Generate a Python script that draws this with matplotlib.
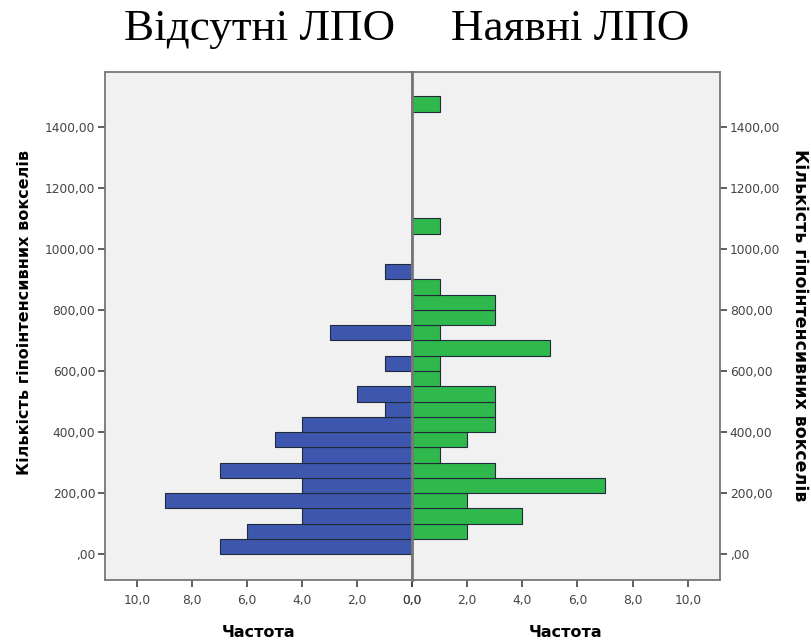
import matplotlib
matplotlib.use("Agg")
import matplotlib.pyplot as plt
from matplotlib.ticker import FuncFormatter
import numpy as np

# bins of 50 voxels, lower edges
bin_edges = np.arange(0, 1500, 50)
bin_width = 50

# frequencies per bin (0-50, 50-100, ...)
absent = [7, 6, 4, 9, 4, 7, 4, 5, 4, 1, 2, 0, 1, 0, 3, 0, 0, 0, 1, 0,
          0, 0, 0, 0, 0, 0, 0, 0, 0, 0]
present = [0, 2, 4, 2, 7, 3, 1, 2, 3, 3, 3, 1, 1, 5, 1, 3, 3, 1, 0, 0,
           0, 1, 0, 0, 0, 0, 0, 0, 0, 1]

title_left = "Відсутні ЛПО"
title_right = "Наявні ЛПО"
y_label = "Кількість гіпоінтенсивних вокселів"
x_label = "Частота"

y_ticks = np.arange(0, 1401, 200)
x_ticks = np.arange(0, 11, 2)

blue = "#3d57ae"
green = "#2fb84b"
bg = "#f1f1f1"
grey = "#777777"

fig = plt.figure(figsize=(8.12, 6.44), dpi=100)
axL = fig.add_axes([105 / 812, 1 - 580 / 644, (412 - 105) / 812, (580 - 72) / 644])
axR = fig.add_axes([412 / 812, 1 - 580 / 644, (720 - 412) / 812, (580 - 72) / 644], sharey=axL)

def fmt_y(v, pos):
    s = f"{v:.2f}".replace(".", ",")
    return s[1:] if s.startswith("0,") else s

def fmt_x(v, pos):
    return f"{abs(v):.1f}".replace(".", ",")

for ax, vals, col in [(axL, absent, blue), (axR, present, green)]:
    ax.set_facecolor(bg)
    ax.barh(bin_edges, vals, height=bin_width, align="edge", color=col,
            edgecolor="#1f2a3a", linewidth=0.8, zorder=2)
    ax.set_xlim(0, 11.17)
    ax.set_ylim(-85, 1580)
    ax.set_xticks(x_ticks)
    ax.xaxis.set_major_formatter(FuncFormatter(fmt_x))
    ax.set_yticks(y_ticks)
    ax.yaxis.set_major_formatter(FuncFormatter(fmt_y))
    ax.tick_params(colors="#444444", labelsize=8.8, length=5, width=1.2)
    ax.tick_params(axis="x", pad=5)
    ax.tick_params(axis="y", pad=2)
    for sp in ax.spines.values():
        sp.set_color(grey)
        sp.set_linewidth(1.3)
    ax.set_xlabel(x_label, fontsize=11.5, fontweight="bold", labelpad=13)

axL.invert_xaxis()
axL.spines["right"].set_linewidth(2)
axR.spines["left"].set_linewidth(2)
axL.yaxis.tick_left()
axR.yaxis.tick_right()
axR.tick_params(axis="y", labelright=True, labelleft=False)

# axis titles on both sides
fig.text(25 / 812, 1 - 312 / 644, y_label, fontsize=11.5, fontweight="bold",
         rotation=90, ha="center", va="center")
fig.text(800 / 812, 1 - 325 / 644, y_label, fontsize=12.5, fontweight="bold",
         rotation=-90, ha="center", va="center")

fig.text(260 / 812, 1 - 29 / 644, title_left, fontsize=32.5, family="Liberation Serif",
         ha="center", va="center")
fig.text(570 / 812, 1 - 29 / 644, title_right, fontsize=32.5, family="Liberation Serif",
         ha="center", va="center")

fig.savefig("out.png", dpi=100, facecolor="white")
